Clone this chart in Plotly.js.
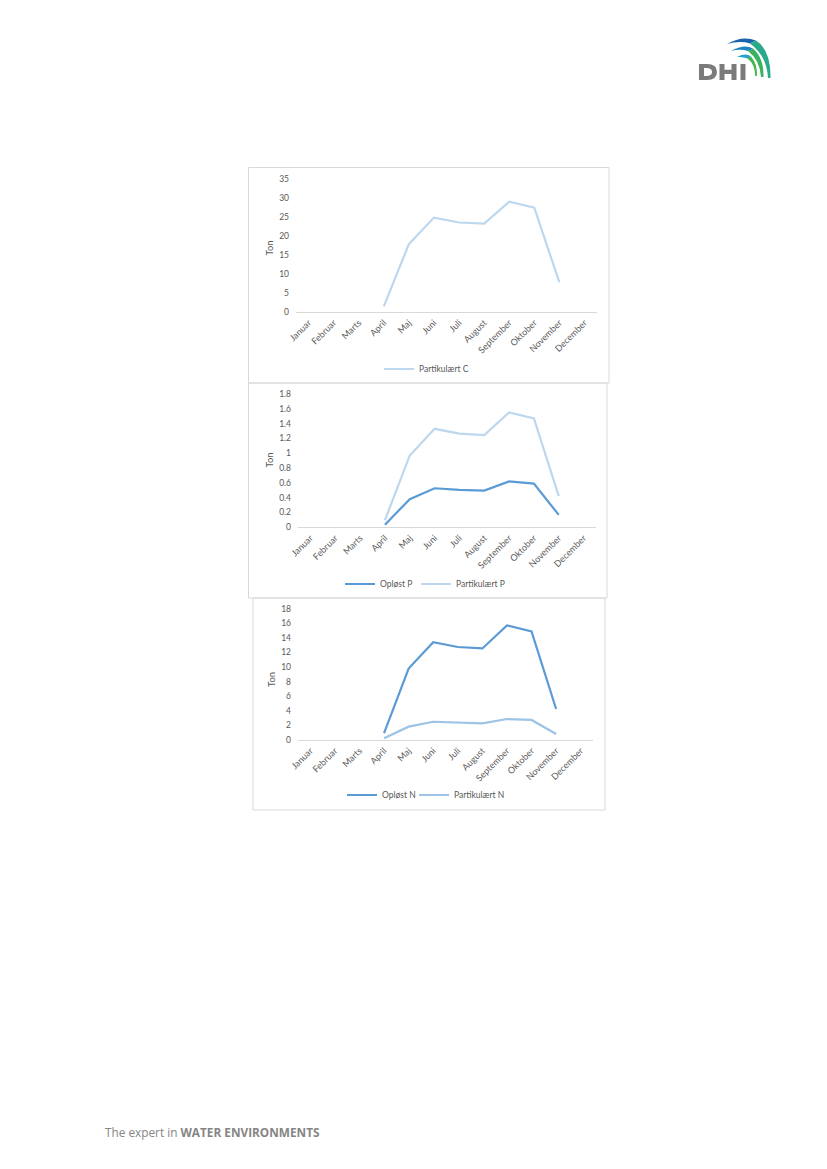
<!DOCTYPE html>
<html>
<head>
<meta charset="utf-8">
<script src="https://cdn.plot.ly/plotly-3.0.1.min.js"></script>
<style>
html,body{margin:0;padding:0;background:#fff;}
#chart{width:827px;height:1169px;}
</style>
</head>
<body>
<div id="chart"></div>
<script>
// ---- Data ----
const months = ["Januar","Februar","Marts","April","Maj","Juni","Juli","August","September","Oktober","November","December"];
const partikulaertC = [null,null,null,1.5,17.9,24.9,23.6,23.3,29.1,27.5,7.8,null];
const oploestP      = [null,null,null,0.035,0.38,0.527,0.505,0.495,0.62,0.59,0.167,null];
const partikulaertP = [null,null,null,0.095,0.97,1.33,1.265,1.245,1.55,1.47,0.42,null];
const oploestN      = [null,null,null,0.95,9.8,13.4,12.75,12.55,15.7,14.9,4.25,null];
const partikulaertN = [null,null,null,0.23,1.83,2.5,2.35,2.28,2.88,2.75,0.82,null];
const seriesNames = ["Partikulært C","Opløst P","Partikulært P","Opløst N","Partikulært N"];
const yTitle = "Ton";
const footerText = "The expert in <b>WATER ENVIRONMENTS</b>";

// ---- Layout helpers ----
const W = 827, H = 1169;
const px = x => x / W;
const py = y => 1 - y / H;
const FONT = "Lato, 'Liberation Sans', Arial, sans-serif";
const TXT = "#595959";

function mkTrace(y, name, color, xa, ya, legend) {
  return {x: months, y: y, name: name, type: "scatter", mode: "lines",
    line: {color: color, width: 2.2}, xaxis: xa, yaxis: ya, legend: legend,
    connectgaps: false, hoverinfo: "skip"};
}

const traces = [
  mkTrace(partikulaertC, seriesNames[0], "#BDD7EE", "x", "y", "legend"),
  mkTrace(oploestP, seriesNames[1], "#5B9BD5", "x2", "y2", "legend2"),
  mkTrace(partikulaertP, seriesNames[2], "#BDD7EE", "x2", "y2", "legend3"),
  mkTrace(oploestN, seriesNames[3], "#5B9BD5", "x3", "y3", "legend4"),
  mkTrace(partikulaertN, seriesNames[4], "#9DC3E6", "x3", "y3", "legend5")
];

function xaxis(x0, x1, anchor) {
  return {domain: [px(x0), px(x1)], anchor: anchor, type: "category",
    categoryorder: "array", categoryarray: months, range: [-0.5, 11.5],
    tickangle: -45, showline: true, linecolor: "#d9d9d9", linewidth: 1,
    showgrid: false, zeroline: false, ticks: "", fixedrange: true,
    ticklabelstandoff: 1,
    tickfont: {family: FONT, size: 9, color: TXT}};
}
function yaxis(y0, y1, anchor, range, dtick) {
  return {domain: [py(y1), py(y0)], anchor: anchor, range: range, dtick: dtick,
    showline: false, showgrid: false, zeroline: false, ticks: "", fixedrange: true,
    ticklabelstandoff: 6,
    tickfont: {family: FONT, size: 8.5, color: TXT}};
}
function legendAt(x, y) {
  return {orientation: "h", x: px(x), y: py(y), xanchor: "left", yanchor: "middle",
    bgcolor: "rgba(0,0,0,0)", borderwidth: 0, itemwidth: 30,
    font: {family: FONT, size: 8.5, color: TXT}};
}

function box(x0, y0, x1, y1) {
  return {type: "rect", xref: "paper", yref: "paper", x0: px(x0), x1: px(x1),
    y0: py(y1), y1: py(y0), line: {color: "#d9d9d9", width: 1}, fillcolor: "rgba(0,0,0,0)"};
}
function pathShape(d, color, width, fill) {
  // d in pixel coordinates → convert to paper
  const conv = d.replace(/(-?\d+(?:\.\d+)?),(-?\d+(?:\.\d+)?)/g, (m, a, b) => px(+a).toFixed(5) + "," + py(+b).toFixed(5));
  const s = {type: "path", xref: "paper", yref: "paper", path: conv,
    line: {color: fill ? "rgba(0,0,0,0)" : color, width: fill ? 0 : width}};
  if (fill) { s.fillcolor = color; s.fillrule = "evenodd"; } else { s.fillcolor = "rgba(0,0,0,0)"; }
  return s;
}

const shapes = [
  box(248.5, 167.5, 609, 383),
  box(248.5, 383, 607, 598),
  box(253, 598, 605, 810),
  // DHI letters
  pathShape("M699,64 L707,64 Q717,64 717,72 Q717,80 707,80 L699,80 Z M704,68 L706.5,68 Q712,68 712,72 Q712,76 706.5,76 L704,76 Z", "#7b7b7b", 0, true),
  pathShape("M719.5,64 L724.5,64 L724.5,69.8 L731.5,69.8 L731.5,64 L736.5,64 L736.5,80 L731.5,80 L731.5,74 L724.5,74 L724.5,80 L719.5,80 Z", "#7b7b7b", 0, true),
  pathShape("M740.5,64 L745.5,64 L745.5,80 L740.5,80 Z", "#7b7b7b", 0, true),
  // swirl (crescent blades)
  pathShape("M727,44 Q742,35 756,40.5 Q752,42.5 750,43.5 Q740,40.5 727,44 Z", "#1b63ad", 0, true),
  pathShape("M756,40.5 Q771,50 770.5,78 L768,78 Q767,56 750,43.5 Z", "#2aaa8a", 0, true),
  pathShape("M731,51 Q744,43.5 753,48.5 Q750,50.5 748,51 Q740,48.5 731,51 Z", "#1c86c4", 0, true),
  pathShape("M753,48.5 Q764,58 763.5,77 L761,77 Q760,60 748,51 Z", "#38b25e", 0, true),
  pathShape("M737,57 Q746,52.5 751,56.5 Q749,58 747.5,58.5 Q743,56.5 737,57 Z", "#22a3c9", 0, true),
  pathShape("M751,56.5 Q757.5,64 757,76 L755.3,76 Q755,64 747.5,58.5 Z", "#44b649", 0, true)
];

const annotations = [
  {text: yTitle, textangle: -90, x: px(268.5), y: py(248), xref: "paper", yref: "paper", xanchor: "center", yanchor: "middle", showarrow: false, font: {family: FONT, size: 9.5, color: TXT}},
  {text: yTitle, textangle: -90, x: px(268.5), y: py(460), xref: "paper", yref: "paper", xanchor: "center", yanchor: "middle", showarrow: false, font: {family: FONT, size: 9.5, color: TXT}},
  {text: yTitle, textangle: -90, x: px(271), y: py(680), xref: "paper", yref: "paper", xanchor: "center", yanchor: "middle", showarrow: false, font: {family: FONT, size: 9.5, color: TXT}},
  {text: footerText, x: px(103), y: py(1132), xref: "paper", yref: "paper", xanchor: "left", yanchor: "middle", showarrow: false,
   font: {family: "'Open Sans', sans-serif", size: 11.8, color: "#858585"}}
];

const layout = {
  width: W, height: H, margin: {l: 0, r: 0, t: 0, b: 0},
  paper_bgcolor: "#ffffff", plot_bgcolor: "rgba(0,0,0,0)",
  showlegend: true,
  xaxis: xaxis(296, 597, "y"),
  yaxis: yaxis(179.3, 312, "x", [0, 35], 5),
  xaxis2: xaxis(298, 596, "y2"),
  yaxis2: yaxis(394, 527.3, "x2", [0, 1.8], 0.2),
  xaxis3: xaxis(298, 593, "y3"),
  yaxis3: yaxis(608.7, 740, "x3", [0, 18], 2),
  legend: legendAt(379, 369),
  legend2: legendAt(340, 584),
  legend3: legendAt(416, 584),
  legend4: legendAt(342, 795),
  legend5: legendAt(414, 795),
  shapes: shapes,
  annotations: annotations
};

Plotly.newPlot("chart", traces, layout, {staticPlot: true, displayModeBar: false});
</script>
</body>
</html>
